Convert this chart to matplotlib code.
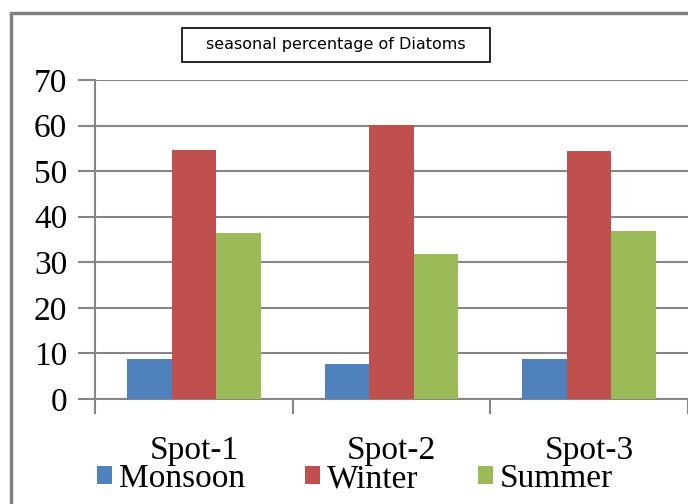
# Grouped bar chart: seasonal percentage of diatoms at three spots

import matplotlib.pyplot as plt
from matplotlib.patches import Rectangle, Patch
import numpy as np

spots = ["Spot-1", "Spot-2", "Spot-3"]
seasons = ["Monsoon", "Winter", "Summer"]
monsoon = [8.8, 7.7, 8.8]
winter = [54.6, 60.2, 54.4]
summer = [36.5, 31.9, 36.9]
yticks = [0, 10, 20, 30, 40, 50, 60, 70]

colors = ["#4F81BD", "#C0504D", "#9BBB59"]
grey = "#868686"
serif = ["Liberation Serif", "DejaVu Serif"]

fig = plt.figure(figsize=(6.88, 5.04), dpi=100)
ax = fig.add_axes([95 / 688, 105 / 504, 593 / 688, 319 / 504])

x = np.arange(len(spots))
w = 0.2256
for i, vals in enumerate([monsoon, winter, summer]):
    ax.bar(x + (i - 1) * w, vals, width=w, color=colors[i], zorder=3)

ax.set_xlim(-0.5, 2.5)
ax.set_ylim(0, 70)
ax.set_yticks(yticks)
ax.set_yticklabels([str(t) for t in yticks], fontfamily=serif, fontsize=24)
ax.yaxis.grid(True, color=grey, linewidth=1.5, zorder=0)
ax.tick_params(axis="y", length=12, width=1.5, color=grey, pad=8)

# category boundaries as ticks, labels centred between them
ax.set_xticks([-0.5, 0.5, 1.5, 2.5])
ax.set_xticklabels([])
ax.set_xticks(x, minor=True)
ax.set_xticklabels(spots, minor=True, fontfamily=serif, fontsize=24)
ax.tick_params(axis="x", which="major", length=11, width=1.5, color=grey)
ax.tick_params(axis="x", which="minor", length=0, pad=26)

for s in ["top", "right"]:
    ax.spines[s].set_visible(False)
for s in ["left", "bottom"]:
    ax.spines[s].set_color(grey)
    ax.spines[s].set_linewidth(1.5)

# legend under the category labels
handles = [Patch(facecolor=c, edgecolor="none") for c in colors]
fig.legend(handles, seasons, loc="center left", bbox_to_anchor=(97 / 688, 1 - 479 / 504),
           ncol=3, frameon=False, prop={"family": serif, "size": 24},
           handlelength=0.45, handleheight=0.45, handletextpad=0.2,
           columnspacing=1.8, borderaxespad=0, borderpad=0)

# title in a box
fig.patches.append(Rectangle((182 / 688, 1 - 62 / 504), 308 / 688, 34 / 504,
                             transform=fig.transFigure, fill=False,
                             edgecolor="black", linewidth=1.2))
fig.text(336 / 688, 1 - 45 / 504, "seasonal percentage of Diatoms",
         ha="center", va="center", fontsize=11.5,
         family=["Liberation Sans Narrow", "DejaVu Sans"])

# outer chart border
fig.patches.append(Rectangle((11 / 688, -0.1), 1.1, 1 - 13 / 504 + 0.1,
                             transform=fig.transFigure, fill=False,
                             edgecolor="#808080", linewidth=2.5))

fig.savefig("out.png", dpi=100)
